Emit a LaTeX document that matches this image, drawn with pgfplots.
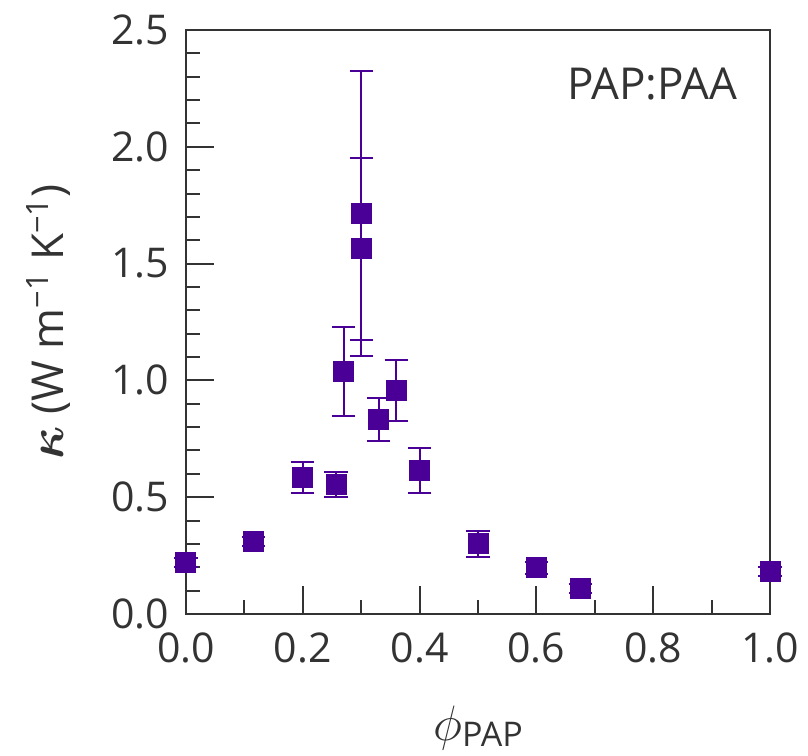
\documentclass[border=0pt]{standalone}
\usepackage{fontspec}
\setmainfont{Open Sans}
\usepackage{bm}
\usepackage{pgfplots}
\pgfplotsset{compat=1.18}
\usetikzlibrary{calc}
\definecolor{pt}{HTML}{4A0096}
\definecolor{ax}{HTML}{333333}
\begin{document}
\begin{tikzpicture}
\begin{axis}[
  width=292pt, height=292pt, scale only axis,
  xmin=0, xmax=1, ymin=0, ymax=2.5,
  xtick={0,0.2,...,1.0}, minor xtick={0.1,0.3,0.5,0.7,0.9},
  ytick={0,0.5,...,2.5}, minor y tick num=4,
  tick pos=left, tick align=inside,
  major tick length=14pt, minor tick length=7pt,
  axis line style={ax, line width=1pt},
  every tick/.style={ax, line width=1pt},
  /pgf/number format/assume math mode=true,
  ticklabel style={font=\fontsize{20.5}{24}\selectfont, text=ax},
  xticklabel style={yshift=-6pt, /pgf/number format/.cd, fixed, fixed zerofill, precision=1},
  yticklabel style={xshift=-5pt, /pgf/number format/.cd, fixed, fixed zerofill, precision=1},
  xlabel={{\fontsize{25}{28}\selectfont$\phi$}{\fontsize{17}{20}\selectfont\raisebox{-0.35ex}{PAP}}},
  ylabel={{\fontsize{27}{30}\selectfont$\bm{\kappa}$} (W m\textsuperscript{−1} K\textsuperscript{−1})},
  label style={font=\fontsize{22}{26}\selectfont, text=ax},
  xlabel style={at={(axis description cs:0.5,-0.195)}, anchor=center},
  ylabel style={at={(axis description cs:-0.235,0.5)}, anchor=center},
  clip=false,
]
\addplot+[only marks, mark=square*, mark size=5pt,
  mark options={fill=pt, draw=pt, line width=0.5pt},
  color=pt, line width=1pt,
  error bars/.cd, y dir=both, y explicit,
  error bar style={line width=1pt, color=pt},
  error mark options={rotate=90, mark size=5.8pt, line width=1pt, color=pt}]
coordinates {
 (0.000,0.220) +- (0,0.02)
 (0.115,0.309) +- (0,0.02)
 (0.200,0.585) +- (0,0.065)
 (0.257,0.555) +- (0,0.055)
 (0.270,1.038) +- (0,0.19)
 (0.300,1.716) +- (0,0.61)
 (0.300,1.564) +- (0,0.39)
 (0.330,0.831) +- (0,0.092)
 (0.360,0.958) +- (0,0.13)
 (0.400,0.614) +- (0,0.098)
 (0.500,0.300) +- (0,0.057)
 (0.600,0.198) +- (0,0.025)
 (0.675,0.110) +- (0,0.02)
 (1.000,0.181) +- (0,0.02)
};
\node[anchor=north east, inner sep=0pt, font=\fontsize{22}{26}\selectfont, text=ax] at (rel axis cs:0.945,0.935) {PAP:PAA};
\end{axis}
\pgfresetboundingbox
\path ($(current axis.south west)+(-93pt,-70.5pt)$) rectangle ($(current axis.north east)+(19pt,15pt)$);
\end{tikzpicture}
\end{document}
